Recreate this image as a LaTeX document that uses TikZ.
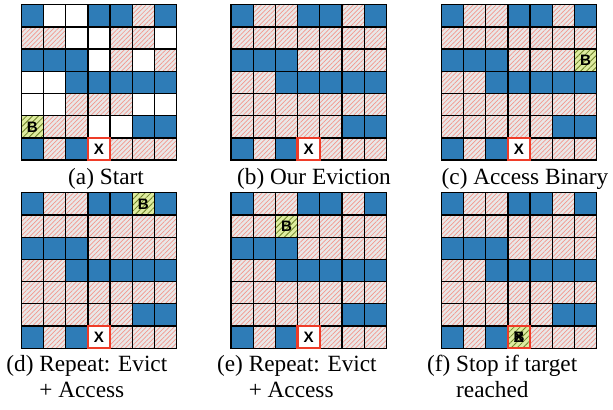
\documentclass[tikz,border=0pt]{standalone}
\usepackage{fontspec}
\setmainfont{Liberation Serif}
\setsansfont{Liberation Sans}
\usetikzlibrary{patterns.meta}
\definecolor{cacheblue}{RGB}{46,124,183}
\definecolor{hatchbg}{RGB}{232,232,232}
\definecolor{hatchred}{RGB}{244,150,140}
\definecolor{binfill}{RGB}{222,236,160}
\definecolor{binline}{RGB}{110,130,40}
\definecolor{targetred}{RGB}{238,60,40}

% cache states, row by row: b blue, h evicted, w free, y binary, x target, z binary on target
\def\grida{{b,w,w,b,b,h,b},{h,h,w,w,h,h,w},{b,b,b,w,h,w,h},{w,w,b,b,b,b,b},{w,w,h,h,h,w,w},{y,h,h,w,w,b,b},{b,h,b,x,h,h,h}}
\def\gridb{{b,h,h,b,b,h,b},{h,h,h,h,h,h,h},{b,b,b,h,h,h,h},{h,h,b,b,b,b,b},{h,h,h,h,h,h,h},{h,h,h,h,h,b,b},{b,h,b,x,h,h,h}}
\def\gridc{{b,h,h,b,b,h,b},{h,h,h,h,h,h,h},{b,b,b,h,h,h,y},{h,h,b,b,b,b,b},{h,h,h,h,h,h,h},{h,h,h,h,h,b,b},{b,h,b,x,h,h,h}}
\def\gridd{{b,h,h,b,b,y,b},{h,h,h,h,h,h,h},{b,b,b,h,h,h,h},{h,h,b,b,b,b,b},{h,h,h,h,h,h,h},{h,h,h,h,h,b,b},{b,h,b,x,h,h,h}}
\def\gride{{b,h,h,b,b,h,b},{h,h,y,h,h,h,h},{b,b,b,h,h,h,h},{h,h,b,b,b,b,b},{h,h,h,h,h,h,h},{h,h,h,h,h,b,b},{b,h,b,x,h,h,h}}
\def\gridf{{b,h,h,b,b,h,b},{h,h,h,h,h,h,h},{b,b,b,h,h,h,h},{h,h,b,b,b,b,b},{h,h,h,h,h,h,h},{h,h,h,h,h,b,b},{b,h,b,z,h,h,h}}

\tikzset{
  cell/.style={minimum size=9.55pt, inner sep=0pt, outer sep=0pt,
    font=\sffamily\bfseries\fontsize{6.5}{7}\selectfont},
  cell b/.style={fill=cacheblue},
  cell w/.style={fill=white},
  cell h/.style={preaction={fill=hatchbg}, pattern={Lines[angle=45,distance=1.4pt,line width=.3pt]},
    pattern color=hatchred},
  cell y/.style={preaction={fill=binfill}, pattern={Lines[angle=45,distance=1.8pt,line width=.35pt]},
    pattern color=binline, execute at begin node={B}},
  cell x/.style={fill=white, execute at begin node={X}},
  cell z/.style={preaction={fill=binfill}, pattern={Lines[angle=45,distance=1.8pt,line width=.35pt]},
    pattern color=binline, execute at begin node={\makebox[0pt]{B}\makebox[0pt]{X}}},
  border/.style={draw, line width=.55pt},
  target/.style={draw=targetred, line width=1pt},
  caption/.style={inner sep=0pt, font=\fontsize{10}{11.2}\selectfont},
}

\begin{document}
\begin{tikzpicture}[x=0.43pt, y=-0.43pt]
  \useasboundingbox (0,0) rectangle (613,409);

  \foreach \g/\gx/\gy in {a/21.3/4.7, b/231/4.7, c/441.3/4.7, d/21.3/192.8, e/231/192.8, f/441.3/192.8}{
    \expandafter\let\expandafter\gridrows\csname grid\g\endcsname
    \foreach \gridrow [count=\ri] in \gridrows
      \foreach \c [count=\ci] in \gridrow
        \node[cell, cell \c] (\g-\ri-\ci) at ({\gx+(\ci-0.5)*22.2},{\gy+(\ri-0.5)*22.2}) {};
    % borders on top of all fills
    \foreach \ri in {1,...,7}
      \foreach \ci in {1,...,7}
        \draw[border] (\g-\ri-\ci.south west) rectangle (\g-\ri-\ci.north east);
    \draw[target] (\g-7-4.south west) rectangle (\g-7-4.north east);
  }

  \node[caption, anchor=base] (cap-a) at (106,184) {(a) Start};
  \node[caption, anchor=base] (cap-b) at (314,184) {(b) Our Eviction};
  \node[caption, anchor=base] (cap-c) at (525,184) {(c) Access Binary};
  \node[caption, anchor=base west] (cap-d) at (6,371)
    {(d) \begin{tabular}[t]{@{}l@{}}Repeat: Evict\\+ Access\end{tabular}};
  \node[caption, anchor=base west] (cap-e) at (216.7,371)
    {(e) \begin{tabular}[t]{@{}l@{}}Repeat: Evict\\+ Access\end{tabular}};
  \node[caption, anchor=base west] (cap-f) at (426.7,371)
    {(f) \begin{tabular}[t]{@{}l@{}}Stop if target\\reached\end{tabular}};
\end{tikzpicture}
\end{document}
